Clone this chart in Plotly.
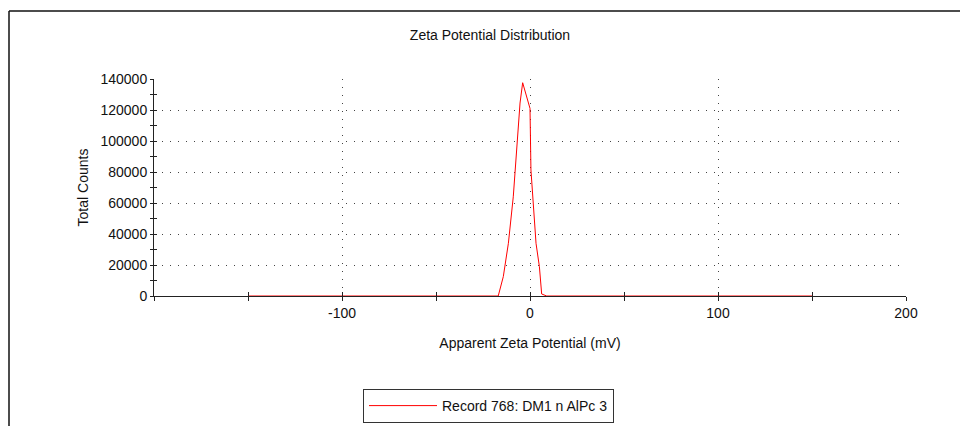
import plotly.graph_objects as go

# Data
zeta_mv = [-150, -16.9, -14.2, -11.5, -8.9, -6.8, -5.3, -3.9, -0.4, 0.0, 0.5, 1.8, 3.2, 5.0, 5.9, 6.2, 8.9, 150]
counts = [0, 0, 12500, 34000, 64000, 102800, 124500, 137600, 122100, 121000, 81300, 55500, 34000, 18900, 6000, 1300, 0, 0]
series_name = "Record 768: DM1 n AlPc 3"

x_major = [-100, 0, 100, 200]
x_major_text = ["-100", "0", "100", "200"]
x_minor = [-200, -150, -100, -50, 0, 50, 100, 150, 200]
y_major = [0, 20000, 40000, 60000, 80000, 100000, 120000, 140000]
y_minor = list(range(0, 140001, 10000))

FONT = "Liberation Sans, Arial, sans-serif"
L, R, T, B = 154, 54, 79, 130
W, H = 960, 426
PW, PH = W - L - R, H - T - B

def px_x(p):
    return (p - L) / PW

def px_y(p):
    return (H - B - p) / PH

fig = go.Figure()
fig.add_trace(go.Scatter(x=zeta_mv, y=counts, mode="lines", name=series_name,
                         line=dict(color="#ff0000", width=1)))
# invisible trace for overlay axes carrying inside ticks
fig.add_trace(go.Scatter(x=[-200, 200], y=[0, 140000], xaxis="x2", yaxis="y2",
                         mode="markers", marker=dict(opacity=0), showlegend=False,
                         hoverinfo="skip"))

grid = dict(showgrid=True, gridcolor="#444444", griddash="1px,7px", gridwidth=1)

fig.update_layout(
    width=W, height=H,
    margin=dict(l=L, r=R, t=T, b=B, autoexpand=False),
    paper_bgcolor="white", plot_bgcolor="white",
    font=dict(family=FONT, size=14, color="#111111"),
    title=dict(text="Zeta Potential Distribution", x=490 / W, xanchor="center",
               y=1 - 35 / H, yanchor="middle", yref="container",
               font=dict(family=FONT, size=14, color="#111111")),
    xaxis=dict(range=[-200, 200], tickmode="array", tickvals=x_major,
               ticktext=x_major_text, automargin=False,
               ticks="outside", ticklen=4, tickcolor="#222222", tickwidth=1,
               minor=dict(tickmode="array", tickvals=x_minor, ticks="outside",
                          ticklen=4, tickcolor="#222222", showgrid=False),
               showline=True, linecolor="#222222", linewidth=1, zeroline=False,
               title=dict(text="Apparent Zeta Potential (mV)", standoff=18,
                          font=dict(size=14)),
               tickfont=dict(size=14), **grid),
    yaxis=dict(range=[0, 140000], tickmode="array", tickvals=y_major,
               tickformat="d", automargin=False,
               ticks="outside", ticklen=3, tickcolor="#222222", tickwidth=1,
               minor=dict(tickmode="array", tickvals=y_minor, ticks="outside",
                          ticklen=3, tickcolor="#222222", showgrid=False),
               showline=True, linecolor="#222222", linewidth=1, zeroline=False,
               title=dict(text="Total Counts", standoff=8, font=dict(size=14)),
               tickfont=dict(size=14), **grid),
    xaxis2=dict(range=[-200, 200], overlaying="x", anchor="y2", side="bottom",
                tickmode="array", tickvals=x_minor, ticks="inside", ticklen=4,
                tickcolor="#222222", showticklabels=False, showgrid=False,
                zeroline=False, showline=False, automargin=False),
    yaxis2=dict(range=[0, 140000], overlaying="y", anchor="x2", side="left",
                tickmode="array", tickvals=y_minor, ticks="inside", ticklen=3,
                tickcolor="#222222", showticklabels=False, showgrid=False,
                zeroline=False, showline=False, automargin=False),
    legend=dict(x=px_x(363), y=px_y(389), xanchor="left", yanchor="top",
                bordercolor="#333333", borderwidth=1, bgcolor="white",
                font=dict(family=FONT, size=14, color="#111111"),
                itemwidth=68, tracegroupgap=0),
    showlegend=True,
)

# outer frame of the exported image
fig.add_shape(type="line", xref="paper", yref="paper",
              x0=px_x(9), x1=px_x(962), y0=px_y(11), y1=px_y(11),
              line=dict(color="#111111", width=1.5))
fig.add_shape(type="line", xref="paper", yref="paper",
              x0=px_x(9), x1=px_x(9), y0=px_y(11), y1=px_y(428),
              line=dict(color="#111111", width=1.5))

fig.write_html("out.html")
